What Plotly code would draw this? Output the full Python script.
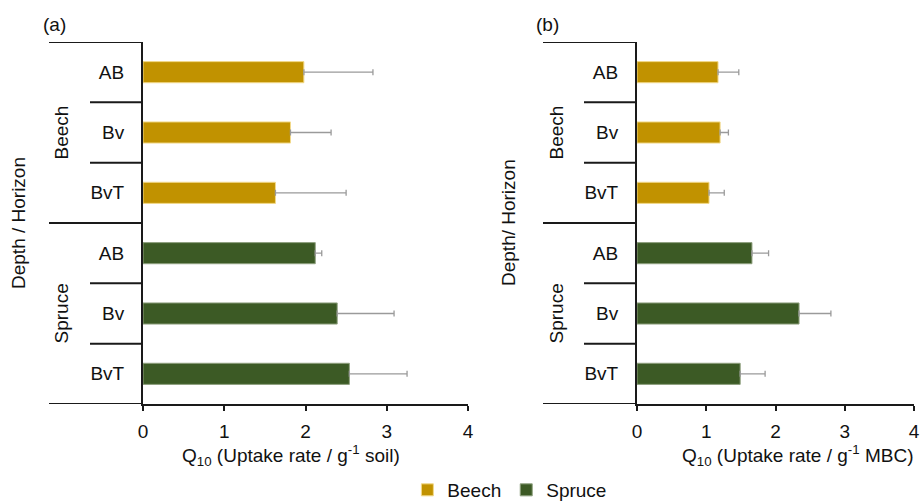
import plotly.graph_objects as go
from plotly.subplots import make_subplots

# Data
sites = ["Beech", "Spruce"]
horizons = ["AB", "Bv", "BvT"]
q10_soil_beech = [1.98, 1.815, 1.63]
q10_soil_beech_err = [0.85, 0.50, 0.87]
q10_soil_spruce = [2.12, 2.39, 2.54]
q10_soil_spruce_err = [0.08, 0.70, 0.71]
q10_mbc_beech = [1.17, 1.20, 1.04]
q10_mbc_beech_err = [0.30, 0.12, 0.22]
q10_mbc_spruce = [1.66, 2.34, 1.49]
q10_mbc_spruce_err = [0.24, 0.46, 0.36]
x_ticks = [0, 1, 2, 3, 4]

colors = {"Beech": "#C19200", "Spruce": "#3C5A25"}
edge = {"Beech": "#F2D98A", "Spruce": "#8FA07F"}
FONT = "Liberation Sans, Arial, sans-serif"
FS = 19
W, H = 922, 501

cats = [f"{s} {h}" for s in sites for h in horizons]

fig = make_subplots(rows=1, cols=2)

panels = [
    (1, {"Beech": (q10_soil_beech, q10_soil_beech_err), "Spruce": (q10_soil_spruce, q10_soil_spruce_err)}),
    (2, {"Beech": (q10_mbc_beech, q10_mbc_beech_err), "Spruce": (q10_mbc_spruce, q10_mbc_spruce_err)}),
]
for col, data in panels:
    for s in sites:
        vals, errs = data[s]
        fig.add_trace(go.Bar(
            x=vals, y=[f"{s} {h}" for h in horizons], orientation="h",
            name=s, legendgroup=s, showlegend=(col == 1),
            width=0.35,
            marker=dict(color=colors[s], line=dict(color=edge[s], width=1)),
            error_x=dict(type="data", symmetric=False, array=errs, arrayminus=[0] * len(errs),
                         color="#9a9a9a", thickness=1.3, width=3),
        ), row=1, col=col)

# pixel geometry of each panel
geo = {
    1: dict(ax0=143, ax4=468, ext=49, inner=90, grp=61, lab=18, panel=54,
            title="Q<sub>10</sub> (Uptake rate / g<sup>-1</sup> soil)", tx=291,
            ytitle="Depth / Horizon"),
    2: dict(ax0=637, ax4=914, ext=543, inner=584, grp=556, lab=508, panel=547,
            title="Q<sub>10</sub> (Uptake rate / g<sup>-1</sup> MBC)", tx=797,
            ytitle="Depth/ Horizon"),
}
ytop, ybot = 42, 404

for col in (1, 2):
    g = geo[col]
    xa = "xaxis" if col == 1 else "xaxis2"
    ya = "yaxis" if col == 1 else "yaxis2"
    fig.layout[xa].update(
        domain=[g["ax0"] / W, g["ax4"] / W], range=[0, 4], tickvals=x_ticks,
        showgrid=False, zeroline=False, showline=True, linecolor="#1a1a1a", linewidth=2,
        ticks="outside", ticklen=5, tickwidth=1.5, tickcolor="#1a1a1a",
        tickfont=dict(family=FONT, size=FS, color="#111"), ticklabelstandoff=4,
        automargin=False,
    )
    fig.layout[ya].update(
        domain=[1 - ybot / H, 1 - ytop / H],
        categoryorder="array", categoryarray=cats, range=[5.5, -0.5],
        tickvals=cats, ticktext=horizons * 2, ticks="",
        showgrid=False, zeroline=False, showline=True, linecolor="#1a1a1a", linewidth=2,
        tickfont=dict(family=FONT, size=FS, color="#111"), ticklabelstandoff=13,
        automargin=False,
    )
    yref = "y" if col == 1 else "y2"
    # horizontal group/row separator lines left of the axis
    for yv, start in [(-0.5, g["ext"]), (0.5, g["inner"]), (1.5, g["inner"]),
                      (2.5, g["ext"]), (3.5, g["inner"]), (4.5, g["inner"]), (5.5, g["ext"])]:
        fig.add_shape(type="line", xref="paper", yref=yref,
                      x0=start / W, x1=g["ax0"] / W, y0=yv, y1=yv,
                      line=dict(color="#1a1a1a", width=2))
    # site group labels
    for s, yc in zip(sites, [1, 4]):
        fig.add_annotation(text=s, xref="paper", yref=yref, x=g["grp"] / W, y=yc,
                           xanchor="center", yanchor="middle",
                           textangle=-90, showarrow=False,
                           font=dict(family=FONT, size=FS, color="#111"))
    # y-axis title
    fig.add_annotation(text=g["ytitle"], xref="paper", yref=yref, x=g["lab"] / W, y=2.5,
                       xanchor="center", yanchor="middle",
                       textangle=-90, showarrow=False,
                       font=dict(family=FONT, size=FS, color="#111"))
    # x-axis title
    fig.add_annotation(text=g["title"], xref="paper", yref="paper", x=g["tx"] / W,
                       y=1 - 455 / H, xanchor="center", yanchor="middle", showarrow=False,
                       font=dict(family=FONT, size=FS, color="#111"))
    # panel label
    fig.add_annotation(text="(a)" if col == 1 else "(b)", xref="paper", yref="paper",
                       x=g["panel"] / W, y=1 - 25 / H, xanchor="center", yanchor="middle",
                       showarrow=False,
                       font=dict(family=FONT, size=FS, color="#111"))

fig.update_layout(
    width=W, height=H, margin=dict(l=0, r=0, t=0, b=0, autoexpand=False),
    paper_bgcolor="white", plot_bgcolor="white", barmode="overlay",
    font=dict(family=FONT, color="#111"),
    legend=dict(orientation="h", x=0.553, xanchor="center", y=1 - 490 / H, yanchor="middle",
                font=dict(family=FONT, size=FS, color="#111"), itemwidth=30,
                tracegroupgap=0, bgcolor="rgba(0,0,0,0)"),
)

fig.write_html("out.html")
